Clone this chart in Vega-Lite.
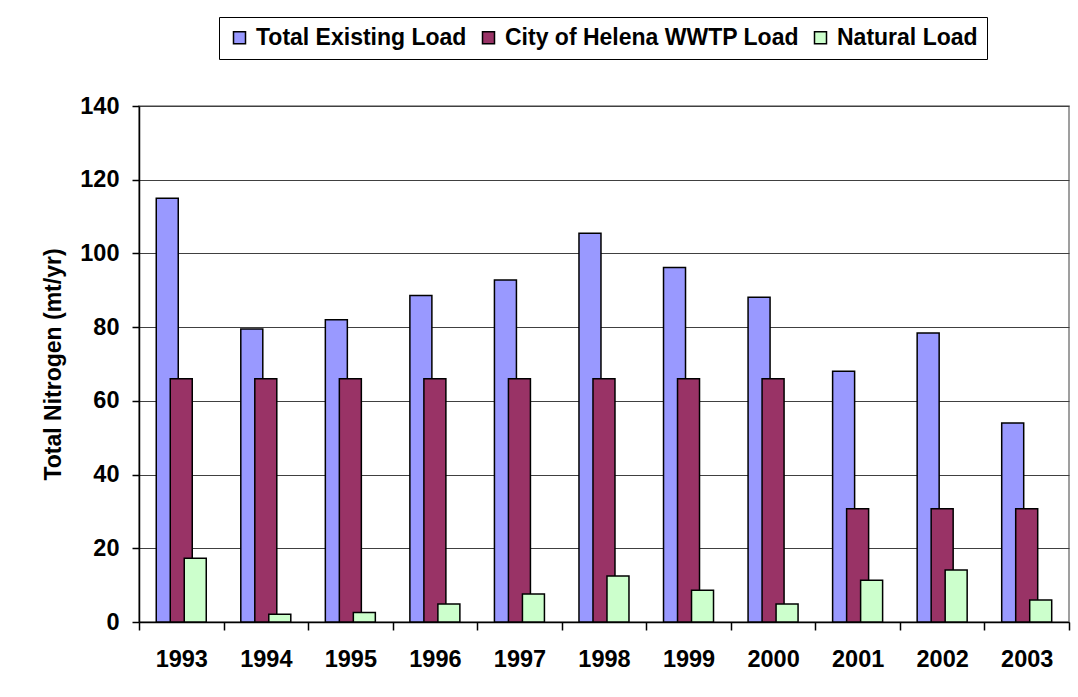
{
  "$schema": "https://vega.github.io/schema/vega-lite/v6.json",
  "width": 930,
  "height": 516,
  "autosize": "none",
  "padding": {"left": 139, "top": 106, "right": 9, "bottom": 75},
  "background": "white",
  "config": {
    "font": "Liberation Sans",
    "view": {"stroke": "#808080", "strokeWidth": 1.5},
    "axis": {"labelFont": "Liberation Sans", "titleFont": "Liberation Sans"}
  },
  "data": {
    "values": [
      {"year": "1993", "series": "Total Existing Load", "value": 115},
      {"year": "1994", "series": "Total Existing Load", "value": 79.5},
      {"year": "1995", "series": "Total Existing Load", "value": 82},
      {"year": "1996", "series": "Total Existing Load", "value": 88.6},
      {"year": "1997", "series": "Total Existing Load", "value": 92.8},
      {"year": "1998", "series": "Total Existing Load", "value": 105.5},
      {"year": "1999", "series": "Total Existing Load", "value": 96.2},
      {"year": "2000", "series": "Total Existing Load", "value": 88.1},
      {"year": "2001", "series": "Total Existing Load", "value": 68},
      {"year": "2002", "series": "Total Existing Load", "value": 78.4},
      {"year": "2003", "series": "Total Existing Load", "value": 54},
      {"year": "1993", "series": "City of Helena WWTP Load", "value": 66},
      {"year": "1994", "series": "City of Helena WWTP Load", "value": 66},
      {"year": "1995", "series": "City of Helena WWTP Load", "value": 66},
      {"year": "1996", "series": "City of Helena WWTP Load", "value": 66},
      {"year": "1997", "series": "City of Helena WWTP Load", "value": 66},
      {"year": "1998", "series": "City of Helena WWTP Load", "value": 66},
      {"year": "1999", "series": "City of Helena WWTP Load", "value": 66},
      {"year": "2000", "series": "City of Helena WWTP Load", "value": 66},
      {"year": "2001", "series": "City of Helena WWTP Load", "value": 30.7},
      {"year": "2002", "series": "City of Helena WWTP Load", "value": 30.7},
      {"year": "2003", "series": "City of Helena WWTP Load", "value": 30.7},
      {"year": "1993", "series": "Natural Load", "value": 17.3},
      {"year": "1994", "series": "Natural Load", "value": 2.1},
      {"year": "1995", "series": "Natural Load", "value": 2.6},
      {"year": "1996", "series": "Natural Load", "value": 4.9},
      {"year": "1997", "series": "Natural Load", "value": 7.6},
      {"year": "1998", "series": "Natural Load", "value": 12.5},
      {"year": "1999", "series": "Natural Load", "value": 8.6},
      {"year": "2000", "series": "Natural Load", "value": 4.9},
      {"year": "2001", "series": "Natural Load", "value": 11.3},
      {"year": "2002", "series": "Natural Load", "value": 14.1},
      {"year": "2003", "series": "Natural Load", "value": 6}
    ]
  },
  "mark": {"type": "bar", "stroke": "black", "strokeWidth": 1.5, "width": 22},
  "encoding": {
    "x": {
      "field": "year",
      "type": "nominal",
      "sort": null,
      "scale": {"paddingInner": 0, "paddingOuter": 0},
      "axis": {
        "title": null,
        "labelAngle": 0,
        "labelFontSize": 23.5,
        "labelFontWeight": "bold",
        "labelColor": "black",
        "labelPadding": 17,
        "tickBand": "extent",
        "tickSize": 8,
        "tickColor": "black",
        "tickWidth": 1.5,
        "domainColor": "black",
        "domainWidth": 1.5
      }
    },
    "xOffset": {
      "field": "series",
      "type": "nominal",
      "sort": ["Total Existing Load", "City of Helena WWTP Load", "Natural Load"],
      "scale": {"range": [21.25, 63.25], "paddingInner": 0, "paddingOuter": 0}
    },
    "y": {
      "field": "value",
      "type": "quantitative",
      "scale": {"domain": [0, 140], "nice": false},
      "axis": {
        "title": "Total Nitrogen (mt/yr)",
        "values": [0, 20, 40, 60, 80, 100, 120, 140],
        "titleFontSize": 23,
        "titleFontWeight": "bold",
        "titleColor": "black",
        "titlePadding": 14,
        "labelFontSize": 23.5,
        "labelFontWeight": "bold",
        "labelColor": "black",
        "labelPadding": 13,
        "tickSize": 7,
        "tickColor": "black",
        "tickWidth": 1.5,
        "domainColor": "black",
        "domainWidth": 1.5,
        "grid": true,
        "gridColor": "#404040",
        "gridWidth": 1
      }
    },
    "color": {
      "field": "series",
      "type": "nominal",
      "scale": {
        "domain": ["Total Existing Load", "City of Helena WWTP Load", "Natural Load"],
        "range": ["#9999FF", "#993366", "#CCFFCC"]
      },
      "legend": {
        "title": null,
        "orient": "none",
        "direction": "horizontal",
        "legendX": 80,
        "legendY": -89,
        "strokeColor": "black",
        "padding": 9,
        "labelFontSize": 23,
        "labelFontWeight": "bold",
        "labelColor": "black",
        "labelLimit": 0,
        "symbolType": "square",
        "symbolSize": 144,
        "symbolStrokeColor": "black",
        "symbolStrokeWidth": 1.5,
        "symbolOpacity": 1,
        "columnPadding": 10,
        "labelOffset": 5
      }
    }
  }
}
